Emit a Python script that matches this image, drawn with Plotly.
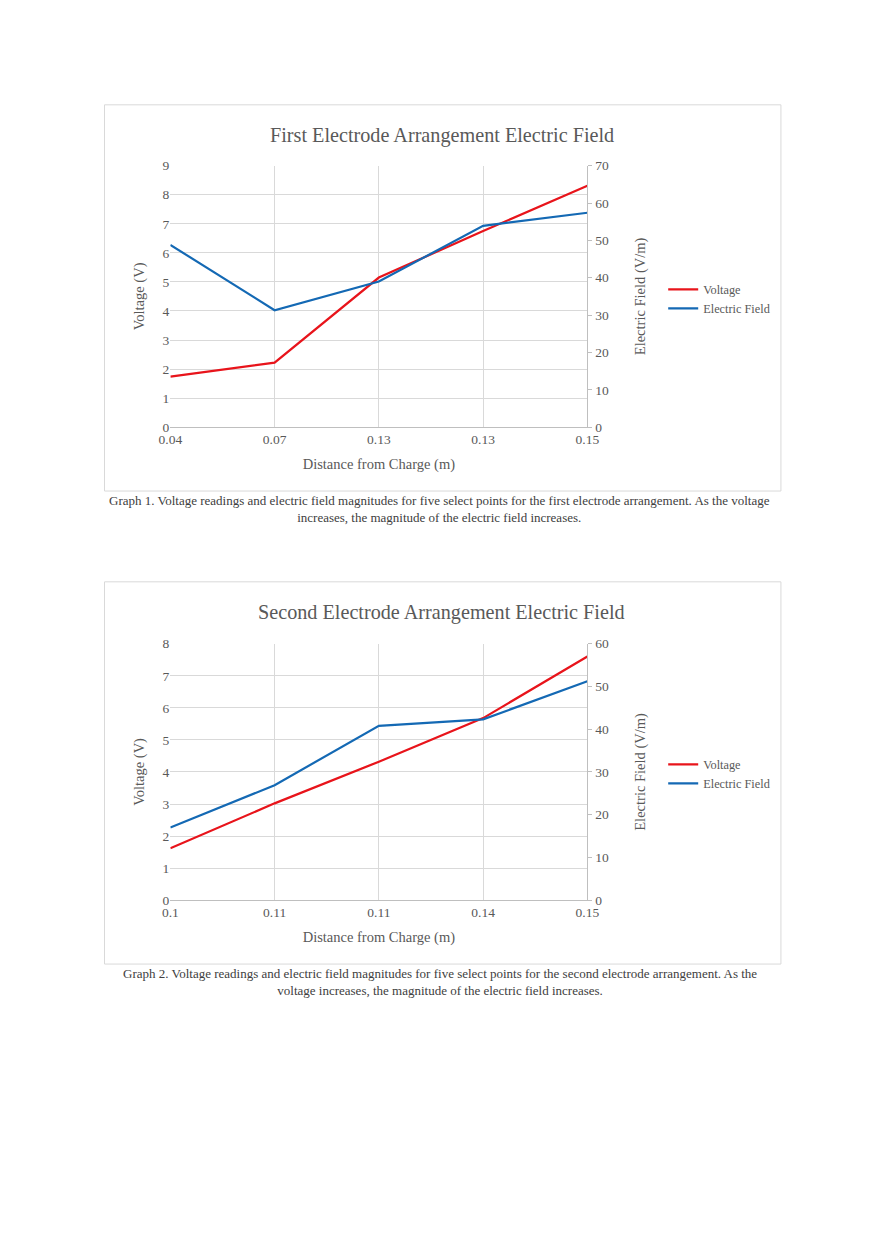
import plotly.graph_objects as go

W, H = 880, 1247

# ---- data ----
cats1 = ["0.04", "0.07", "0.13", "0.13", "0.15"]
volt1 = [1.74, 2.22, 5.15, 6.75, 8.31]
field1 = [48.8, 31.3, 39.0, 53.9, 57.4]

cats2 = ["0.1", "0.11", "0.11", "0.14", "0.15"]
volt2 = [1.62, 3.02, 4.32, 5.68, 7.6]
field2 = [17.0, 26.9, 40.8, 42.3, 51.2]

titles = ["First Electrode Arrangement Electric Field",
          "Second Electrode Arrangement Electric Field"]
captions = [
    "Graph 1. Voltage readings and electric field magnitudes for five select points for the first electrode arrangement. As the voltage<br>increases, the magnitude of the electric field increases.",
    "Graph 2. Voltage readings and electric field magnitudes for five select points for the second electrode arrangement. As the<br>voltage increases, the magnitude of the electric field increases.",
]

RED = "#e8141b"
BLUE = "#1469b4"
TXT = "#595959"
GRID = "#d9d9d9"
FONT = "Liberation Serif"

# map target-picture pixels to figure paper fractions (compensates for capture offset/scale)
def px(x):
    return ((x - 19.3) / 0.975) / W

def py(y):
    return 1 - ((y - 14) / 0.99) / H

fig = go.Figure()
pos = list(range(5))

fig.add_trace(go.Scatter(x=pos, y=volt1, name="Voltage", mode="lines",
                         line=dict(color=RED, width=2.2), xaxis="x", yaxis="y", legend="legend"))
fig.add_trace(go.Scatter(x=pos, y=field1, name="Electric Field", mode="lines",
                         line=dict(color=BLUE, width=2.2), xaxis="x", yaxis="y2", legend="legend"))
fig.add_trace(go.Scatter(x=pos, y=volt2, name="Voltage", mode="lines",
                         line=dict(color=RED, width=2.2), xaxis="x2", yaxis="y3", legend="legend2"))
fig.add_trace(go.Scatter(x=pos, y=field2, name="Electric Field", mode="lines",
                         line=dict(color=BLUE, width=2.2), xaxis="x2", yaxis="y4", legend="legend2"))

tickfont = dict(family=FONT, size=13.5, color=TXT)
titlefont = dict(family=FONT, size=14.5, color=TXT)

boxes = [(104, 782, 104, 491), (104, 782, 582, 965)]

def xaxis(ticktext, anchor):
    return dict(domain=[px(170), px(588)], anchor=anchor, range=[0, 4],
                tickvals=pos, ticktext=ticktext, tickfont=tickfont,
                showgrid=True, gridcolor=GRID, gridwidth=1,
                showline=True, linecolor="#bfbfbf", linewidth=1.2,
                zeroline=False, ticks="", ticklabelstandoff=0,
                title=dict(text="Distance from Charge (m)", font=titlefont, standoff=12))

def yleft(rng, dom, anchor):
    return dict(domain=dom, anchor=anchor, range=rng, dtick=1, tickfont=tickfont,
                showgrid=True, gridcolor=GRID, gridwidth=1, zeroline=False,
                showline=False, ticks="",
                title=dict(text="Voltage (V)", font=titlefont, standoff=14))

def yright(rng, overlay, anchor):
    return dict(overlaying=overlay, anchor=anchor, side="right", range=rng, dtick=10,
                tickfont=tickfont, showgrid=False, zeroline=False,
                showline=True, linecolor="#bfbfbf", linewidth=1.2,
                ticks="outside", ticklen=4, tickcolor="#bfbfbf",
                title=dict(text="Electric Field (V/m)", font=titlefont, standoff=26))

dom1 = [py(427), py(165)]
dom2 = [py(901), py(644)]

legfont = dict(family=FONT, size=12.3, color=TXT)

fig.update_layout(
    width=W, height=H,
    margin=dict(l=0, r=0, t=0, b=0),
    paper_bgcolor="white", plot_bgcolor="white",
    font=dict(family=FONT, color=TXT),
    xaxis=xaxis(cats1, "y"),
    yaxis=yleft([0, 9], dom1, "x"),
    yaxis2=yright([0, 70], "y", "x"),
    xaxis2=xaxis(cats2, "y3"),
    yaxis3=yleft([0, 8], dom2, "x2"),
    yaxis4=yright([0, 60], "y3", "x2"),
    legend=dict(x=px(664), y=py(298.5), xanchor="left", yanchor="middle",
                font=legfont, bgcolor="rgba(0,0,0,0)", tracegroupgap=0, itemwidth=30),
    legend2=dict(x=px(664), y=py(774.5), xanchor="left", yanchor="middle",
                 font=legfont, bgcolor="rgba(0,0,0,0)", tracegroupgap=0, itemwidth=30),
    showlegend=True,
)

shapes = []
for (x0, x1, y0, y1) in boxes:
    shapes.append(dict(type="rect", xref="paper", yref="paper",
                       x0=px(x0), x1=px(x1), y0=py(y1), y1=py(y0),
                       line=dict(color="#d9d9d9", width=1), fillcolor="rgba(0,0,0,0)", layer="below"))
fig.update_layout(shapes=shapes)

annotations = []
for t, yc in zip(titles, [135, 613]):
    annotations.append(dict(text=t, xref="paper", yref="paper", x=px(442), y=py(yc),
                            xanchor="center", yanchor="middle", showarrow=False,
                            font=dict(family=FONT, size=20.2, color=TXT)))
for c, yc in zip(captions, [509.5, 982.5]):
    annotations.append(dict(text=c, xref="paper", yref="paper", x=px(440), y=py(yc),
                            xanchor="center", yanchor="middle", showarrow=False, align="center",
                            font=dict(family=FONT, size=13, color="#404040")))
fig.update_layout(annotations=annotations)

fig.write_html("out.html")
